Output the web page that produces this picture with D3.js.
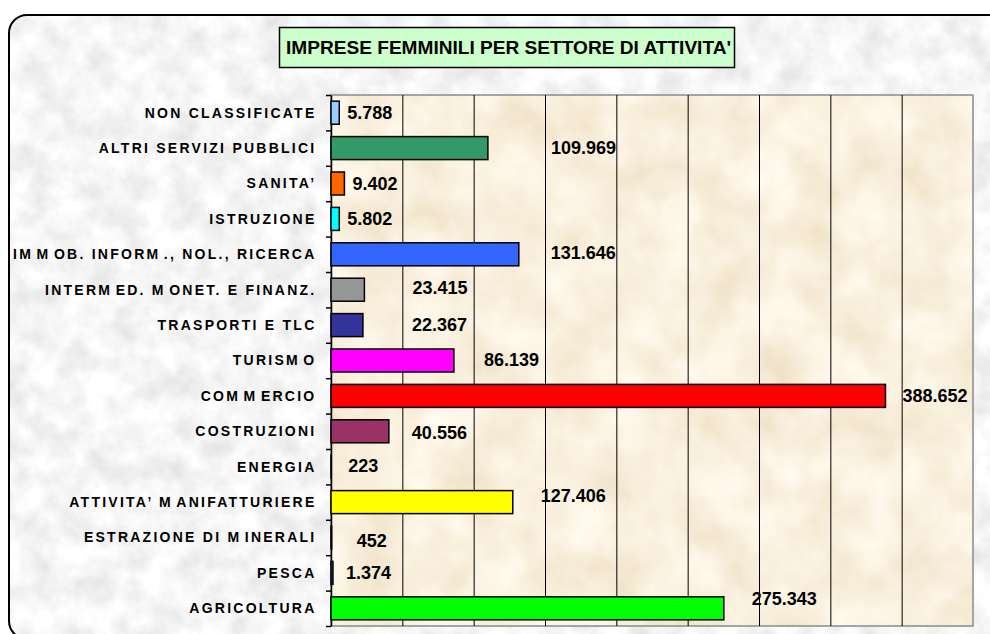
<!DOCTYPE html>
<html>
<head>
<meta charset="utf-8">
<title>Imprese femminili per settore di attività</title>
<style>
body { margin: 0; background: #fff; }
svg { display: block; }
.cat { font: bold 14px "Liberation Sans", Arial, sans-serif; letter-spacing: 2.25px; fill: #000; }
.val { font: bold 18px "Liberation Sans", Arial, sans-serif; fill: #000; }
.titolo { font: bold 19px "Liberation Sans", Arial, sans-serif; fill: #000; }
</style>
</head>
<body>
<script src="https://d3js.org/d3.v7.min.js"></script>
<script>
// settori, dall'alto in basso (gli spazietti dentro le parole sono come nell'originale)
var settori = [
  "NON CLASSIFICATE",
  "ALTRI SERVIZI PUBBLICI",
  "SANITA\u2019",
  "ISTRUZIONE",
  "IM\u200aM\u200aOB. INFORM\u200a., NOL., RICERCA",
  "INTERM\u200aED. M\u200aONET. E FINANZ.",
  "TRASPORTI E TLC",
  "TURISM\u200aO",
  "COM\u200aM\u200aERCIO",
  "COSTRUZIONI",
  "ENERGIA",
  "ATTIVITA\u2019 M\u200aANIFATTURIERE",
  "ESTRAZIONE DI M\u200aINERALI",
  "PESCA",
  "AGRICOLTURA"
];
var imprese = [5788, 109969, 9402, 5802, 131646, 23415, 22367, 86139, 388652, 40556, 223, 127406, 452, 1374, 275343];
var colori = ["#99ccff", "#339966", "#ff6600", "#00ffff", "#3366ff", "#969696", "#333399", "#ff00ff",
              "#ff0000", "#993366", "#ff9900", "#ffff00", "#808080", "#0066cc", "#00ff00"];
var griglia = [50000, 100000, 150000, 200000, 250000, 300000, 350000, 400000];
var titolo = "IMPRESE FEMMINILI PER SETTORE DI ATTIVITA'";

// etichette spostate a mano come nell'originale (dx, dy in px)
var spostamenti = [[0,0],[55,0],[0,0],[0,0],[24,-2],[40,-2],[41,0],[22,-1],[9,0],[15,1],[9,-1],[20,-6],[17,3],[5,0],[20,-10]];

var width = 990, height = 634;
var svg = d3.select("body").append("svg")
    .attr("width", width)
    .attr("height", height);

var defs = svg.append("defs");
// texture grigia del fondo
var f1 = defs.append("filter").attr("id", "marmo")
    .attr("filterUnits", "userSpaceOnUse")
    .attr("x", 0).attr("y", 0).attr("width", width).attr("height", height);
f1.append("feTurbulence").attr("type", "fractalNoise").attr("baseFrequency", 0.035)
    .attr("numOctaves", 5).attr("seed", 7);
f1.append("feColorMatrix").attr("type", "matrix")
    .attr("values", "0.4 0 0 0 0.72  0.4 0 0 0 0.72  0.4 0 0 0 0.72  0 0 0 0 1");
f1.append("feComposite").attr("in2", "SourceGraphic").attr("operator", "in");
// texture pergamena dell'area del grafico
var f2 = defs.append("filter").attr("id", "pergamena")
    .attr("filterUnits", "userSpaceOnUse")
    .attr("x", 0).attr("y", 0).attr("width", width).attr("height", height);
f2.append("feTurbulence").attr("type", "fractalNoise").attr("baseFrequency", 0.02)
    .attr("numOctaves", 4).attr("seed", 3);
f2.append("feColorMatrix").attr("type", "matrix")
    .attr("values", "0.2 0 0 0 0.85  0.28 0 0 0 0.73  0.4 0 0 0 0.53  0 0 0 0 1");
f2.append("feComposite").attr("in2", "SourceGraphic").attr("operator", "in");

// cornice arrotondata
svg.append("rect")
    .attr("x", 9).attr("y", 15).attr("width", 1010).attr("height", 624)
    .attr("rx", 18).attr("ry", 18)
    .attr("fill", "#e8e8e8")
    .attr("filter", "url(#marmo)");
svg.append("rect")
    .attr("x", 9).attr("y", 15).attr("width", 1010).attr("height", 624)
    .attr("rx", 18).attr("ry", 18)
    .attr("fill", "none").attr("stroke", "#000").attr("stroke-width", 2);

// titolo
svg.append("rect")
    .attr("x", 279.5).attr("y", 27.5).attr("width", 455).attr("height", 40)
    .attr("fill", "#ccffcc").attr("stroke", "#000").attr("stroke-width", 1.5);
svg.append("text")
    .attr("class", "titolo")
    .attr("x", 286).attr("y", 53.5)
    .attr("textLength", 445).attr("lengthAdjust", "spacingAndGlyphs")
    .text(titolo);

var plotL = 331, plotR = 973, plotT = 95, plotB = 626;

var x = d3.scaleLinear().domain([0, 450000]).range([plotL, plotR]);
var y = d3.scaleBand().domain(settori).range([plotT, plotB])
    .paddingInner(0.35).paddingOuter(0.175);
var righe = d3.scaleLinear().domain([0, settori.length]).range([plotT, plotB]);

// area del grafico
svg.append("rect")
    .attr("x", plotL).attr("y", plotT).attr("width", plotR - plotL).attr("height", plotB - plotT)
    .attr("fill", "#f3e2c0")
    .attr("filter", "url(#pergamena)");
svg.append("rect")
    .attr("x", plotL).attr("y", plotT).attr("width", plotR - plotL).attr("height", plotB - plotT)
    .attr("fill", "none").attr("stroke", "#8a8a8a").attr("stroke-width", 1.5);

// griglia verticale
var gx = svg.append("g")
    .attr("transform", "translate(0," + plotB + ")")
    .call(d3.axisBottom(x).tickValues(griglia).tickSize(-(plotB - plotT)).tickFormat(""));
gx.select(".domain").remove();
gx.selectAll(".tick line").attr("stroke", "#000").attr("stroke-width", 1);

// asse delle categorie
var gy = svg.append("g")
    .attr("transform", "translate(" + plotL + ",0)")
    .call(d3.axisLeft(righe).tickValues(d3.range(settori.length + 1)).tickSize(5).tickSizeOuter(0).tickFormat(""));
gy.select(".domain").attr("stroke", "#000").attr("stroke-width", 1.5);
gy.selectAll(".tick line").attr("stroke", "#000").attr("stroke-width", 1.5);

// barre
svg.selectAll("rect.barra")
    .data(imprese)
    .enter()
    .append("rect")
    .attr("class", "barra")
    .attr("x", x(0))
    .attr("y", function(d, i) { return y(settori[i]); })
    .attr("width", function(d) { return x(d) - x(0); })
    .attr("height", y.bandwidth())
    .attr("fill", function(d, i) { return colori[i]; })
    .attr("stroke", "#000")
    .attr("stroke-width", 1.5);

// nomi dei settori
svg.selectAll("text.cat")
    .data(settori)
    .enter()
    .append("text")
    .attr("class", "cat")
    .attr("x", 316.5)
    .attr("y", function(d) { return y(d) + y.bandwidth() / 2; })
    .attr("dy", "0.35em")
    .attr("text-anchor", "end")
    .text(function(d) { return d; });

// valori
var fmt = d3.formatLocale({ decimal: ",", thousands: ".", grouping: [3], currency: ["\u20ac", ""] }).format(",d");
svg.selectAll("text.val")
    .data(imprese)
    .enter()
    .append("text")
    .attr("class", "val")
    .attr("x", function(d, i) { return x(d) + 8 + spostamenti[i][0]; })
    .attr("y", function(d, i) { return y(settori[i]) + y.bandwidth() / 2 + spostamenti[i][1]; })
    .attr("dy", "0.35em")
    .text(function(d) { return fmt(d); });
</script>
</body>
</html>
